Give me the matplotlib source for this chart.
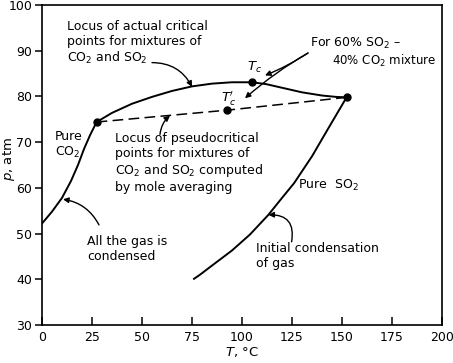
"""plot.py -- critical loci of CO2-SO2 mixtures (p vs T)"""

import matplotlib.pyplot as plt

# vapour pressure curve of pure CO2
co2_T = [0, 5, 10, 14.5, 18, 21, 24, 27.3]
co2_p = [52.2, 54.8, 57.8, 61.5, 65, 68.5, 71.5, 74.4]

# vapour pressure curve of pure SO2
so2_T = [76, 79, 85, 95, 104, 113.2, 120, 126, 135, 143, 152.3]
so2_p = [40.1, 41, 43, 46.3, 49.8, 54.1, 57.8, 61, 66.9, 72.9, 79.8]

# locus of actual critical points
crit_T = [27.3, 35, 45, 55, 65, 75, 85, 95, 105, 112, 120, 130, 140, 147, 152.3]
crit_p = [74.4, 76.4, 78.4, 79.9, 81.2, 82.2, 82.8, 83.1, 83.1, 82.7, 81.9, 80.9, 80.2, 79.9, 79.8]

# locus of pseudocritical points (mole averaging)
pseudo_T = [27.3, 92.7, 152.3]
pseudo_p = [74.4, 77.0, 79.8]

# marked points: CO2 crit, Tc, Tc', SO2 crit
dot_T = [27.3, 105, 92.7, 152.3]
dot_p = [74.4, 83.1, 77.0, 79.8]

x_ticks = [0, 25, 50, 75, 100, 125, 150, 175, 200]
y_ticks = [30, 40, 50, 60, 70, 80, 90, 100]

plt.rcParams['font.family'] = "DejaVu Sans"
plt.rcParams['mathtext.fontset'] = "dejavusans"

fig = plt.figure(figsize=(4.53, 3.63), dpi=100)
ax = fig.add_axes([0.0927, 0.1047, 0.883, 0.8815])

lw = 1.4
ax.plot(co2_T, co2_p, 'k-', linewidth=lw)
ax.plot(so2_T, so2_p, 'k-', linewidth=lw)
ax.plot(crit_T, crit_p, 'k-', linewidth=lw)
ax.plot(pseudo_T, pseudo_p, 'k-', linewidth=1.1, dashes=(7, 3.5))
ax.plot(dot_T, dot_p, 'ko', markersize=5)

ax.set_xlim(0, 200)
ax.set_ylim(30, 100)
ax.set_xticks(x_ticks)
ax.set_yticks(y_ticks)
ax.tick_params(axis='x', direction='in', length=6, width=1.1, labelsize=9, pad=4)
ax.tick_params(axis='y', direction='out', length=5, width=1.1, labelsize=9, pad=2)
for s in ax.spines.values():
    s.set_linewidth(1.2)

ax.set_xlabel("$T$, \u00b0C", fontsize=9.5, labelpad=1)
ax.set_ylabel("$p$, atm", fontsize=9.5)
ax.yaxis.set_label_coords(-0.062, 0.52)

fs = 9
ls = 1.2
ax.text(12.5, 91.7, "Locus of actual critical\npoints for mixtures of\nCO$_2$ and SO$_2$",
        fontsize=fs, va='center', ha='left', linespacing=ls)
ax.text(6.5, 69.3, "Pure\nCO$_2$", fontsize=fs, va='center', ha='left', linespacing=ls)
ax.text(36.5, 65.5, "Locus of pseudocritical\npoints for mixtures of\n"
        "CO$_2$ and SO$_2$ computed\nby mole averaging",
        fontsize=fs, va='center', ha='left', linespacing=ls)
ax.text(22.5, 46.6, "All the gas is\ncondensed", fontsize=fs, va='center', ha='left',
        linespacing=ls)
ax.text(128, 60.6, "Pure  SO$_2$", fontsize=fs, va='center', ha='left')
ax.text(107, 45.1, "Initial condensation\nof gas", fontsize=fs, va='center', ha='left',
        linespacing=ls)
ax.text(134, 91.5, "For 60% SO$_2$ \u2013", fontsize=fs, va='center', ha='left')
ax.text(144.8, 87.8, "40% CO$_2$ mixture", fontsize=8.5, va='center', ha='left')
ax.text(106.5, 86.4, "$T_c$", fontsize=fs + 0.5, va='center', ha='center')
ax.text(93.5, 79.6, "$T_c^{\\prime}$", fontsize=fs + 0.5, va='center', ha='center')

arrow = dict(arrowstyle='-|>', color='k', linewidth=1.0, mutation_scale=8,
             shrinkA=0, shrinkB=0)

def pointer(head, tail, rad):
    props = dict(arrow, connectionstyle="arc3,rad=%.2f" % rad)
    ax.annotate("", xy=head, xytext=tail, arrowprops=props)

pointer((75, 82.1), (55, 87.4), -0.3)
pointer((64, 75.8), (59, 71.7), -0.2)
pointer((10.5, 57.5), (28.5, 51.9), 0.25)
pointer((113.2, 54.1), (124.8, 48.2), 0.6)
pointer((111.5, 84.6), (133, 89.5), -0.05)
pointer((101.5, 79.6), (133, 89.5), 0.05)

plt.savefig("out.png", dpi=100)
